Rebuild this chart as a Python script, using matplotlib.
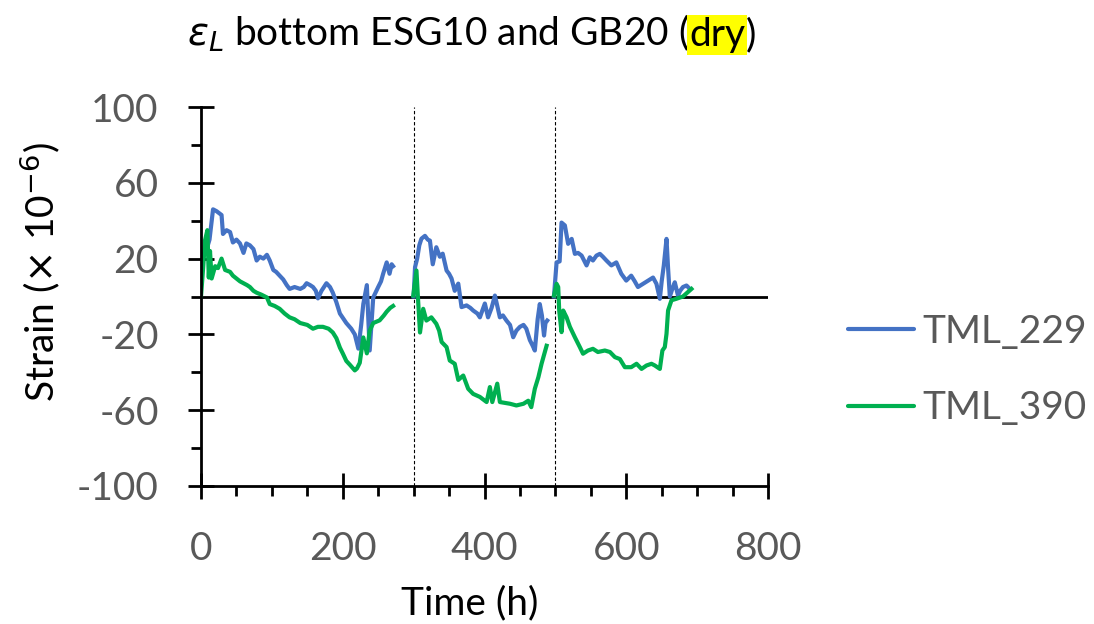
import numpy as np
import matplotlib
matplotlib.use("Agg")
import matplotlib.pyplot as plt
from matplotlib.ticker import MultipleLocator, FixedLocator

plt.rcParams['font.family'] = ['Lato', 'DejaVu Sans']

nan = np.nan
time_229 = [0, 2, 8, 12, 17, 22, 29, 31, 36, 41, 45, 50, 55, 60, 64, 69, 74, 78.5, 83, 88, 93, 97, 102, 106,
            111, 116, 121, 125, 132, 140, 145, 149, 154, 158, 162, 165, 170, 177, 182, 186, 191, 196, 205,
            212, 217, 222, 226, 229, 234, 238, 243, 250, 254, 257, 262, 266, 269, 271, nan,
            300, 302, 305, 308, 311, 316, 320, 323, 327, 332, 337, 341, 346.5, 350, 353.5, 358, 363, 367.6,
            374.7, 380, 384, 390, 393.5, 400.5, 405, 410, 414.7, 418, 421.7, 426, 431, 436, 440.5, 445, 450,
            455, 459, 464, 468, 471, 475, 478, 481, 484, 486, 488.5, nan,
            498, 501.7, 506, 508.7, 513.4, 518, 523, 527.5, 532, 537, 544, 548.6, 553, 558, 562.8, 567, 572,
            579, 586, 593, 600, 607, 612, 616.5, 623.7, 630.7, 637.8, 642.6, 647.4, 650, 653, 656.8, 659,
            661.5, 665, 668.5, 673, 676, 680, 685, 689.7]
strain_229 = [8, 20, 25, 30, 46, 45, 43, 33, 35, 34, 28.5, 30, 28, 23, 28, 27, 25, 19, 21, 20, 22, 19, 14, 13,
              11, 9, 6, 4, 5, 4, 5, 7, 6, 5, 3, -1, 3, 7, 5, 2, -3, -9, -14,
              -17, -20, -27.5, -15, -4, 6, -28.5, -0.5, 5, 8, 12, 18, 12, 17, 16, nan,
              0, 15.5, 20, 27, 30.5, 32, 30, 29.5, 17, 26, 21, 22.6, 13.7, 12, 9.5, 3, 6.8, -5.6,
              -4.7, -6, -7.4, -9, -11, -3.7, -11, -6, 0.5, -5, -11, -10, -12.7, -15, -21.5, -18, -16,
              -15, -17, -23, -26, -28.5, -12, -4, -10, -20.6, -14, -12.7, nan,
              0, 18, 18.5, 39, 37.5, 27.8, 30.4, 22.5, 23, 21.6, 16.4, 20.7, 19, 21.6, 22.5, 21, 19,
              16.4, 18, 12, 8.4, 11, 8, 5, 6.7, 8.4, 10, 6.7, -1.2, 8, 16.4, 30.4, 15,
              0, 4, 7.5, 0.5, 3, 5, 5.8, 4]

time_390 = [0, 3, 5.6, 9, 11, 12.7, 15, 20, 24, 29, 34, 41, 45, 50, 55, 60, 65, 69, 74, 78.5, 85, 93, 97,
            104, 111, 118, 125, 132, 140, 150, 158, 165, 172, 180, 186, 191, 196, 200, 205, 210, 217, 220,
            224, 229, 234, 238, 243, 252, 258, 262, 267, 271, nan,
            299.5, 304, 306, 309, 313.5, 318, 325, 332, 336, 339.5, 346.5, 351, 358, 363, 370, 377, 384,
            393.5, 403, 407.6, 411, 418, 421.7, 436, 445, 455, 461.7, 466, 471, 476, 480.5, 487.6, nan,
            498, 501.7, 504, 505.4, 508.7, 511, 515.8, 520.5, 527.5, 534.5, 539, 546, 553, 560, 569.8, 577,
            584, 591, 598, 607, 614.5, 621.6, 628.6, 635.6, 640.3, 647.4, 651, 654.4, 656.8, 659, 663.8,
            670.8, 680, 692]
strain_390 = [0, 15, 29.5, 35, 10, 24, 9.5, 16, 15, 20, 14, 13, 11, 9.5, 8, 7, 6, 5, 3, 2, 1, -0.5, -4,
              -5, -6.5, -9, -11, -12, -14, -15, -17, -16, -16, -17, -19, -22, -27, -30, -34, -36, -39, -38,
              -35, -21.6, -30, -18, -14, -12.6, -10, -8, -6, -5, nan,
              0.5, 13.7, 0, -19, -6.5, -12.7, -11, -14.4, -18, -24, -26.7, -33.8, -35.5, -44, -41.7, -48.7, -51.4,
              -53, -55.7, -47.8, -55.7, -46, -55.7, -56.6, -57.5, -56.6, -55, -58.4, -48.7, -42.6, -35.5, -26, nan,
              0.5, 6.7, 5, -7.4, -18.8, -7.4, -11, -16, -21.5, -26.7, -30.2, -28.5, -27.6, -29.3, -28.5, -29.3,
              -32, -33, -37.3, -37.3, -35.5, -38.2, -36.4, -35.5, -36.4, -38.2, -28.5, -26.7, -19.7, -7.4, -2,
              -1.2, 0, 4]

series_names = ["TML_229", "TML_390"]
stage_marks = [300, 500]
x_ticks = [0, 200, 400, 600, 800]
y_ticks = [-100, -60, -20, 20, 60, 100]

fig = plt.figure(figsize=(10.94, 6.24), dpi=100)
ax = fig.add_axes([201/1094, 1-486/624, 567/1094, 379/624])

ax.plot(time_229, strain_229, color='#4472C4', lw=3, label=series_names[0], solid_joinstyle='round')
ax.plot(time_390, strain_390, color='#00B050', lw=3, label=series_names[1], solid_joinstyle='round')
ax.axhline(0, color='black', lw=2, zorder=1)
for s in stage_marks:
    ax.plot([s, s], [-100, 100], color='black', lw=0.8, ls=(0, (3, 2)), zorder=1)

ax.set_xlim(0, 800)
ax.set_ylim(-100, 100)
for sp in ['top', 'right']:
    ax.spines[sp].set_visible(False)
for sp in ['left', 'bottom']:
    ax.spines[sp].set_linewidth(2)
    ax.spines[sp].set_color('black')

ax.xaxis.set_major_locator(FixedLocator(x_ticks))
ax.xaxis.set_minor_locator(MultipleLocator(50))
ax.yaxis.set_major_locator(FixedLocator(y_ticks))
ax.yaxis.set_minor_locator(FixedLocator([-80, -40, 0, 40, 80]))
ax.tick_params(which='major', direction='inout', length=19, width=2, color='black',
               labelsize=28, labelcolor='#595959')
ax.tick_params(which='minor', direction='out', length=7.5, width=2, color='black')
ax.tick_params(axis='x', which='major', pad=23)
ax.tick_params(axis='y', which='major', pad=21)
ax.set_xticklabels([str(v) for v in x_ticks])
ax.set_yticklabels([str(v) for v in y_ticks])

ax.set_xlabel("Time (h)", fontsize=28, color='black', va='center')
ax.xaxis.set_label_coords((470 - 201) / 567, (486 - 603) / 379)
ax.set_ylabel("Strain ($\\times$ 10$^{-6}$)", fontsize=28, color='black', va='center')
ax.yaxis.set_label_coords((40 - 201) / 567, (486 - 272) / 379)

leg = ax.legend(loc='center left', bbox_to_anchor=(848/1094, 1-370/624), bbox_transform=fig.transFigure,
                frameon=False, fontsize=28, handlelength=1.7, handletextpad=0.2, labelspacing=1.05,
                labelcolor='#595959', borderaxespad=0, borderpad=0)
for h in leg.get_lines():
    h.set_linewidth(3)
    h.set_solid_capstyle('round')

# title composed of pieces to highlight "dry"
fig.canvas.draw()
r = fig.canvas.get_renderer()
y_base = 1 - 46/624
t1 = fig.text(187/1094, y_base, "$\\varepsilon_L$ bottom ESG10 and GB20 (", fontsize=28,
              va='baseline', ha='left')
bb = t1.get_window_extent(r)
x2 = bb.x1 / fig.bbox.width
t2 = fig.text(x2, y_base, "dry", fontsize=28, va='baseline', ha='left',
              bbox=dict(facecolor='#FFFF00', edgecolor='none', pad=1.5))
bb2 = t2.get_window_extent(r)
x3 = bb2.x1 / fig.bbox.width
fig.text(x3, y_base, ")", fontsize=28, va='baseline', ha='left')

fig.savefig("out.png", dpi=100)
